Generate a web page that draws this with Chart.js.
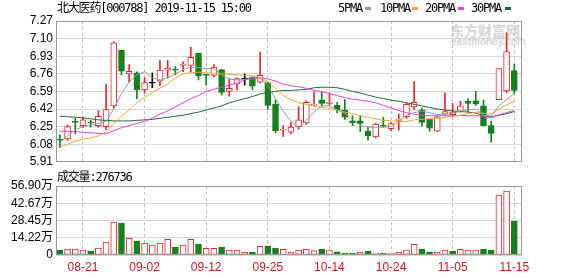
<!DOCTYPE html>
<html>
<head>
<meta charset="utf-8">
<script src="https://cdn.jsdelivr.net/npm/chart.js@4/dist/chart.umd.min.js"></script>
<style>
  body { margin: 0; width: 578px; height: 276px; background: #fff; position: relative; overflow: hidden;
         font-family: "DejaVu Sans Mono", "Noto Sans CJK SC", monospace; font-size: 12px; color: #000; }
  .txt { position: absolute; line-height: 16px; letter-spacing: -1.2px; white-space: pre; }
  .mk { position: absolute; width: 6px; height: 3px; }
  .wm { position: absolute; color: #d4d4d4; font-family: "Noto Sans CJK SC", sans-serif; font-weight: bold; white-space: pre; }
  #priceWrap { position: absolute; left: 0; top: 0; }
  #volWrap { position: absolute; left: 0; top: 172px; }
</style>
</head>
<body>
<div class="wm" style="left:450px;top:22px;font-size:14px;line-height:16px;">东方财富网</div>
<div class="wm" style="left:451px;top:37px;font-size:10px;line-height:10px;font-family:'Liberation Sans',sans-serif;">eastmoney.com</div>

<div id="priceWrap"><canvas id="price" width="578" height="172"></canvas></div>
<div id="volWrap"><canvas id="vol" width="578" height="104"></canvas></div>

<div class="txt" style="left:57px;top:0px;">北大医药[000788] 2019-11-15 15:00</div>
<div class="txt" style="left:338px;top:0px;">5PMA</div><div class="mk" style="left:365px;top:7px;background:#999999"></div>
<div class="txt" style="left:380px;top:0px;">10PMA</div><div class="mk" style="left:412px;top:7px;background:#f0a830"></div>
<div class="txt" style="left:425px;top:0px;">20PMA</div><div class="mk" style="left:458px;top:7px;background:#e040e0"></div>
<div class="txt" style="left:471px;top:0px;">30PMA</div><div class="mk" style="left:505px;top:7px;background:#1e6b35"></div>
<div class="txt" style="left:57px;top:169px;">成交量:276736</div>

<script>
// daily OHLC, 2019-08-16 .. 2019-11-15
const open  = [6.13, 6.13, 6.30, 6.26, 6.29, 6.26, 6.25, 6.45, 6.99, 6.76,
               6.77, 6.605, 6.67, 6.69, 6.795, 6.80, 6.84, 6.84, 6.96, 6.755,
               6.745, 6.80, 6.59, 6.66, 6.71, 6.725, 6.68, 6.675, 6.465, 6.215,
               6.195, 6.25, 6.285, 6.455, 6.505, 6.475, 6.455, 6.41, 6.305, 6.305,
               6.205, 6.15, 6.265, 6.23, 6.31, 6.345, 6.44, 6.41, 6.32, 6.205,
               6.37, 6.365, 6.40, 6.495, 6.50, 6.45, 6.26, 6.51, 6.595, 6.79];
const high  = [6.17, 6.265, 6.33, 6.345, 6.31, 6.405, 6.66, 7.07, 6.99, 6.85,
               6.78, 6.72, 6.77, 6.89, 6.89, 6.83, 6.875, 7.015, 6.96, 6.755,
               6.85, 6.80, 6.715, 6.72, 6.76, 6.725, 6.97, 6.68, 6.505, 6.26,
               6.29, 6.44, 6.50, 6.585, 6.585, 6.575, 6.485, 6.51, 6.355, 6.355,
               6.245, 6.285, 6.34, 6.29, 6.37, 6.48, 6.685, 6.43, 6.32, 6.35,
               6.575, 6.475, 6.495, 6.52, 6.59, 6.505, 6.30, 6.81, 7.155, 6.855];
const low   = [6.05, 6.12, 6.18, 6.24, 6.245, 6.245, 6.22, 6.43, 6.75, 6.68,
               6.52, 6.575, 6.625, 6.645, 6.72, 6.75, 6.78, 6.78, 6.70, 6.65,
               6.73, 6.555, 6.545, 6.605, 6.65, 6.605, 6.67, 6.415, 6.19, 6.155,
               6.18, 6.225, 6.27, 6.45, 6.45, 6.46, 6.385, 6.32, 6.26, 6.20,
               6.12, 6.14, 6.245, 6.21, 6.215, 6.33, 6.415, 6.255, 6.205, 6.20,
               6.355, 6.345, 6.39, 6.395, 6.455, 6.26, 6.10, 6.51, 6.575, 6.57];
const close = [6.12, 6.25, 6.29, 6.315, 6.285, 6.35, 6.415, 7.06, 6.785, 6.785,
               6.605, 6.675, 6.67, 6.795, 6.815, 6.795, 6.855, 6.92, 6.74, 6.745,
               6.825, 6.58, 6.62, 6.715, 6.71, 6.64, 6.745, 6.455, 6.21, 6.225,
               6.245, 6.315, 6.485, 6.46, 6.475, 6.485, 6.41, 6.34, 6.285, 6.28,
               6.16, 6.275, 6.255, 6.28, 6.315, 6.465, 6.485, 6.29, 6.235, 6.345,
               6.395, 6.39, 6.45, 6.475, 6.47, 6.26, 6.185, 6.81, 6.975, 6.60];

const ma5  = [6.09, 6.16, 6.22, 6.25, 6.27, 6.28, 6.30, 6.42, 6.57, 6.68,
              6.75, 6.78, 6.72, 6.70, 6.72, 6.76, 6.80, 6.825, 6.82, 6.81,
              6.81, 6.75, 6.71, 6.70, 6.705, 6.71, 6.72, 6.65, 6.52, 6.40,
              6.30, 6.24, 6.31, 6.39, 6.45, 6.45, 6.41, 6.38, 6.32, 6.26,
              6.245, 6.245, 6.245, 6.25, 6.30, 6.36, 6.385, 6.40, 6.385, 6.365,
              6.37, 6.38, 6.40, 6.41, 6.42, 6.36, 6.35, 6.45, 6.51, 6.57];
const ma10 = [6.05, 6.08, 6.11, 6.13, 6.14, 6.16, 6.20, 6.28, 6.35, 6.41,
              6.48, 6.53, 6.58, 6.62, 6.66, 6.72, 6.76, 6.77, 6.775, 6.77,
              6.765, 6.76, 6.755, 6.75, 6.745, 6.74, 6.725, 6.68, 6.62, 6.55,
              6.51, 6.48, 6.465, 6.45, 6.435, 6.425, 6.41, 6.39, 6.375, 6.355,
              6.34, 6.325, 6.31, 6.305, 6.30, 6.30, 6.315, 6.32, 6.325, 6.33,
              6.34, 6.35, 6.36, 6.375, 6.385, 6.38, 6.37, 6.42, 6.46, 6.495];
const ma20 = [6.205, 6.205, 6.20, 6.195, 6.19, 6.185, 6.18, 6.21, 6.24, 6.26,
              6.28, 6.30, 6.33, 6.37, 6.40, 6.44, 6.48, 6.52, 6.55, 6.59,
              6.61, 6.63, 6.65, 6.67, 6.70, 6.73, 6.72, 6.71, 6.69, 6.66,
              6.645, 6.635, 6.62, 6.60, 6.585, 6.57, 6.55, 6.53, 6.515, 6.505,
              6.495, 6.48, 6.455, 6.43, 6.405, 6.385, 6.37, 6.36, 6.355, 6.355,
              6.355, 6.355, 6.355, 6.355, 6.355, 6.35, 6.335, 6.365, 6.385, 6.405];
const ma30 = [6.35, 6.345, 6.34, 6.335, 6.325, 6.315, 6.31, 6.305, 6.305, 6.305,
              6.31, 6.315, 6.32, 6.33, 6.34, 6.35, 6.36, 6.375, 6.39, 6.41,
              6.43, 6.45, 6.48, 6.50, 6.52, 6.54, 6.565, 6.58, 6.59, 6.60,
              6.60, 6.605, 6.61, 6.625, 6.63, 6.63, 6.625, 6.61, 6.59, 6.575,
              6.555, 6.535, 6.52, 6.505, 6.495, 6.48, 6.465, 6.45, 6.435, 6.42,
              6.41, 6.40, 6.395, 6.39, 6.38, 6.355, 6.345, 6.36, 6.375, 6.395];

// volume in 万 shares, and whether the bar is drawn as a rise (r) or fall (g)
const volume = [4.1, 4.9, 4.9, 4.1, 3.3, 5.8, 10.7, 27.2, 26.4, 13.7,
                11.5, 9.9, 8.2, 9.9, 12.9, 6.6, 8.2, 12.9, 9.1, 5.5,
                5.5, 6.6, 4.1, 4.1, 2.5, 2.5, 7.1, 7.4, 5.8, 4.7,
                2.5, 4.1, 4.7, 3.6, 4.9, 4.1, 2.7, 1.6, 1.6, 2.5,
                3.3, 1.6, 1.6, 1.6, 2.5, 4.1, 8.8, 4.9, 2.5, 2.5,
                4.1, 3.3, 4.7, 4.1, 4.1, 4.9, 4.1, 49.5, 52.8, 27.67];
const volumeDir = 'grrrgrrrgrgrrrrgrrgrrgrrrgrggrrrrrgrgggrgrgrrrrggrrgrrrggrrg';

const dateTickIndex = [3, 11, 19, 27, 35, 43, 51, 59];
const dateTickLabels = ['08-21', '09-02', '09-12', '09-25', '10-14', '10-24', '11-05', '11-15'];
const priceTicks = [5.91, 6.08, 6.25, 6.42, 6.59, 6.76, 6.93, 7.10, 7.27];
const volumeTicks = [0, 14.225, 28.45, 42.675, 56.90];
const volumeTickLabels = ['0', '14.22万', '28.45万', '42.67万', '56.90万'];

const RED = '#e3262d';
const GREEN = '#14801e';
const FONT = "'Liberation Sans', Arial, 'Noto Sans CJK SC', sans-serif";

Chart.defaults.font.family = FONT;
Chart.defaults.font.size = 12;
Chart.defaults.color = '#000';

const idx = open.map((_, i) => i);
const candleColor = i => close[i] > open[i] ? RED : (close[i] < open[i] ? GREEN : '#000');
const points = arr => arr.map((v, i) => ({ x: i, y: v }));

// grey frame round the plot area
const frame = {
    id: 'frame',
    afterDraw(chart) {
        const a = chart.chartArea;
        const ctx = chart.ctx;
        ctx.save();
        ctx.strokeStyle = '#9a9a9a';
        ctx.lineWidth = 1;
        ctx.strokeRect(Math.round(a.left) + 0.5, Math.round(a.top) + 0.5,
                       Math.round(a.right - a.left) - 1, Math.round(a.bottom - a.top) - 1);
        ctx.restore();
    },
};

function xScale(showLabels, height) {
    return {
        type: 'linear',
        offset: false,
        min: -0.5,
        max: 60,
        afterBuildTicks: s => { s.ticks = dateTickIndex.map(v => ({ value: v })); },
        afterFit: s => { s.height = height; },
        ticks: {
            display: showLabels,
            color: '#d0141e',
            padding: 5,
            maxRotation: 0,
            autoSkip: false,
            callback: (v, i) => dateTickLabels[i],
        },
        grid: { color: '#bdbdbd', drawTicks: false, offset: false },
        border: { display: false, dash: [3, 3] },
    };
}

function yScale(min, max, ticks, label) {
    return {
        min: min,
        max: max,
        afterBuildTicks: s => { s.ticks = ticks.map(v => ({ value: v })); },
        afterFit: s => { s.width = 56; },
        ticks: { padding: 3, autoSkip: false, callback: label },
        grid: { color: '#d6d6d6', drawTicks: false },
        border: { display: false },
    };
}

function maLine(data, color) {
    return { type: 'line', data: points(data), borderColor: color, borderWidth: 1,
             pointRadius: 0, tension: 0, order: 0 };
}

new Chart(document.getElementById('price'), {
    type: 'bar',
    data: {
        datasets: [
            maLine(ma5, '#999999'),
            maLine(ma10, '#f0a830'),
            maLine(ma20, '#e040e0'),
            maLine(ma30, '#1e6b35'),
            {
                data: idx.map(i => ({ x: i, y: [open[i], close[i]] })),
                backgroundColor: idx.map(i => close[i] > open[i] ? '#fff' : candleColor(i)),
                borderColor: idx.map(candleColor),
                borderWidth: 1,
                borderSkipped: false,
                barThickness: 6,
                minBarLength: 1,
                grouped: false,
                order: 1,
            },
            {
                data: idx.map(i => ({ x: i, y: [low[i], high[i]] })),
                backgroundColor: idx.map(candleColor),
                barThickness: 1,
                grouped: false,
                order: 2,
            },
        ],
    },
    options: {
        responsive: false,
        animation: false,
        layout: { padding: { top: 21, right: 56, bottom: 0, left: 0 } },
        plugins: { legend: { display: false }, tooltip: { enabled: false } },
        scales: {
            x: xScale(false, 7),
            y: yScale(5.91, 7.27, priceTicks, v => v.toFixed(2)),
        },
    },
    plugins: [frame],
});

new Chart(document.getElementById('vol'), {
    type: 'bar',
    data: {
        datasets: [{
            data: idx.map(i => ({ x: i, y: volume[i] })),
            backgroundColor: idx.map(i => volumeDir[i] === 'r' ? '#fff' : GREEN),
            borderColor: idx.map(i => volumeDir[i] === 'r' ? RED : GREEN),
            borderWidth: 1,
            borderSkipped: false,
            barThickness: 6,
        }],
    },
    options: {
        responsive: false,
        animation: false,
        layout: { padding: { top: 14, right: 56, bottom: 0, left: 0 } },
        plugins: { legend: { display: false }, tooltip: { enabled: false } },
        scales: {
            x: xScale(true, 21),
            y: yScale(0, 56.90, volumeTicks, (v, i) => volumeTickLabels[i]),
        },
    },
    plugins: [frame],
});
</script>
</body>
</html>
